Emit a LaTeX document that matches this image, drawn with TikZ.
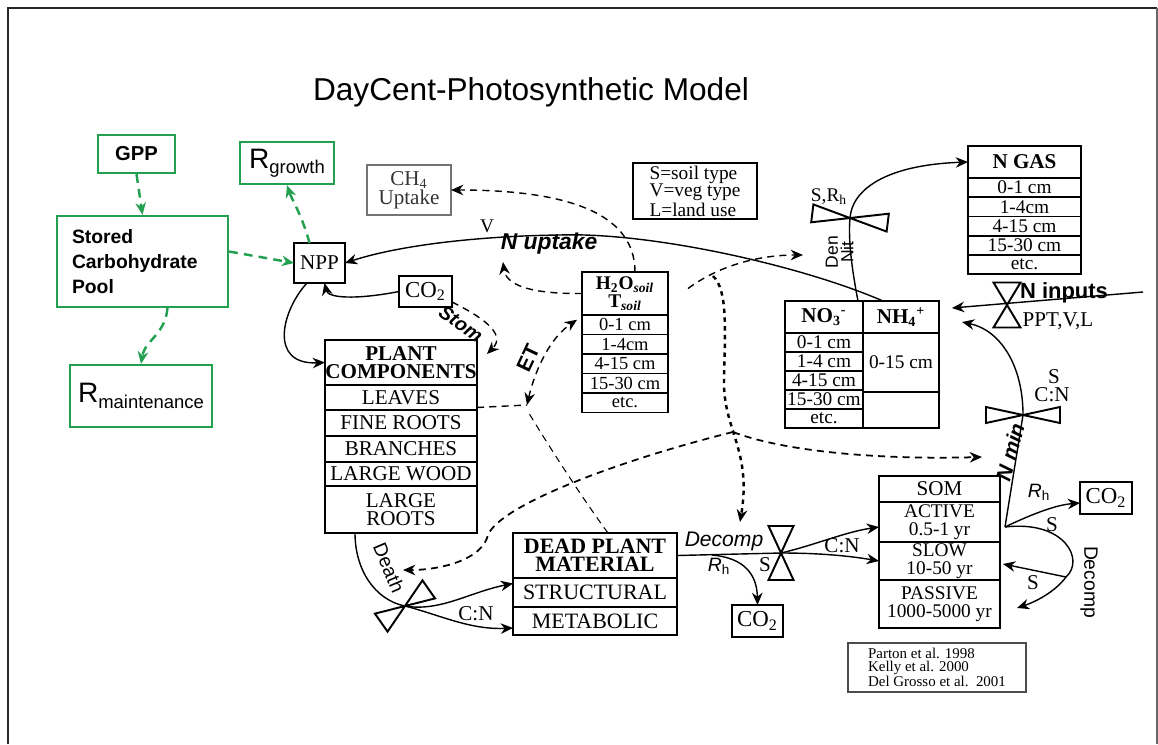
\documentclass[tikz,border=0pt]{standalone}
\usepackage{fontspec}
\setmainfont{Liberation Serif}
\setsansfont{Liberation Sans}
\usetikzlibrary{arrows.meta, positioning}
\definecolor{boxgreen}{RGB}{34,160,80}
\newcommand{\Fs}[1]{\fontsize{#1}{#1}\selectfont}
\newcommand{\BigR}[1]{{\fontsize{16}{18}\selectfont R}\raisebox{-3pt}{\fontsize{10.5}{12}\selectfont #1}}
\newcommand{\Rh}{\textit{R}\textsubscript{h}}
\tikzset{
    pics/valve/.style 2 args={code={
      \draw[line width=1.1pt] (0,0) -- (-#1,-#2) -- (-#1,#2) -- cycle
        (0,0) -- (#1,-#2) -- (#1,#2) -- cycle;
    }},
    poolrow/.style={draw, line width=1.1pt, inner sep=0pt, outer sep=0pt, minimum width=#1, align=center},
    gbox/.style={draw=boxgreen, line width=1.3pt, inner sep=0pt, align=center, font=\sffamily},
    gflow/.style={-{Stealth[length=7pt,width=6pt]}, boxgreen, line width=1.4pt, dash pattern=on 5pt off 3.5pt},
    flow/.style={-{Stealth[length=7pt,width=6pt]}, line width=0.8pt},
    dflow/.style={flow, dash pattern=on 4pt off 3pt},
    dotflow/.style={flow, line width=1.4pt, dash pattern=on 2.5pt off 2.5pt},
    lbl/.style={font=\sffamily\Fs{11}, inner sep=0pt},
    serlbl/.style={font=\Fs{12}, inner sep=0pt},
}

\begin{document}
\begin{tikzpicture}[x=0.02cm, y=-0.02cm]
    \tikzset{node distance=0pt}
    \useasboundingbox (0,0) rectangle (1158,744);
    \draw[line width=1.6pt, black!85] (8,744) -- (8,8) -- (1157,8);
    \draw[line width=0.8pt, black!60] (1157,8) -- (1157,744);

    \node[font=\sffamily\Fs{18}] (title) at (531,92) {DayCent-Photosynthetic Model};

    \node[gbox, minimum width=1.54cm, minimum height=0.76cm, font=\sffamily\bfseries\Fs{11.5}] (gpp) at (136.5,154) {GPP};
    \node[gbox, minimum width=1.88cm, minimum height=0.84cm] (rgrowth) at (287,163) {\BigR{growth}};
    \node[gbox, minimum width=3.42cm, minimum height=1.82cm, text width=2.82cm, align=left, font=\sffamily\bfseries\fontsize{11}{14}\selectfont] (stored) at (142.5,261.5) {Stored\\Carbohydrate\\Pool};
    \node[gbox, minimum width=2.84cm, minimum height=1.24cm] (rmaint) at (141,396) {\BigR{maintenance}};

    \node[poolrow=1.02cm, minimum height=0.8cm, font=\Fs{12}] (npp) at (319.5,263) {NPP};
    \node[poolrow=1.06cm, minimum height=0.62cm, font=\Fs{13}] (co2a) at (425.5,291.5) {CO\textsubscript{2}};
    \node[poolrow=1.68cm, minimum height=1cm, draw=black!55, text=black!80, font=\fontsize{12}{11}\selectfont] (ch4) at (409,190) {CH\textsubscript{4}\\Uptake};
    \node[poolrow=2.48cm, minimum height=1.12cm, align=left, font=\fontsize{11}{10}\selectfont] (legend) at (695,191) {S=soil type\\V=veg type\\L=land use};
    \node[poolrow=1.02cm, minimum height=0.64cm, font=\Fs{13}] (co2b) at (757.5,621) {CO\textsubscript{2}};
    \node[poolrow=1.04cm, minimum height=0.64cm, font=\Fs{13}] (co2c) at (1106,498) {CO\textsubscript{2}};
    \node[poolrow=3.56cm, minimum height=0.98cm, line width=0.8pt, draw=black!70, align=left, font=\fontsize{8.5}{7.5}\selectfont] (refs) at (937,667.5) {Parton et al. 1998\\Kelly et al. 2000\\Del Grosso et al.\ \ 2001};

    \node[poolrow=3.04cm, minimum height=0.9cm, anchor=north west, font=\bfseries\fontsize{12}{10}\selectfont] (pc) at (325,340) {PLANT\\COMPONENTS};
    \node[poolrow=3.04cm, minimum height=0.5cm, below=of pc, font=\Fs{12}] (leaves) {LEAVES};
    \node[poolrow=3.04cm, minimum height=0.52cm, below=of leaves, font=\Fs{12}] (fineroots) {FINE ROOTS};
    \node[poolrow=3.04cm, minimum height=0.52cm, below=of fineroots, font=\Fs{12}] (branches) {BRANCHES};
    \node[poolrow=3.04cm, minimum height=0.48cm, below=of branches, font=\Fs{12}] (largewood) {LARGE WOOD};
    \node[poolrow=3.04cm, minimum height=0.94cm, below=of largewood, font=\fontsize{12}{10}\selectfont] (largeroots) {LARGE\\ROOTS};

    \node[poolrow=1.72cm, minimum height=0.86cm, anchor=north west, font=\bfseries\fontsize{11}{10}\selectfont] (h2o) at (582,272) {H\textsubscript{2}O\textsubscript{\textit{soil}}\\T\textsubscript{\textit{soil}}};
    \node[poolrow=1.72cm, minimum height=0.39cm, below=of h2o, font=\Fs{10.5}] (h2o1) {0-1 cm};
    \node[poolrow=1.72cm, minimum height=0.39cm, below=of h2o1, font=\Fs{10.5}] (h2o2) {1-4cm};
    \node[poolrow=1.72cm, minimum height=0.39cm, below=of h2o2, font=\Fs{10.5}] (h2o3) {4-15 cm};
    \node[poolrow=1.72cm, minimum height=0.39cm, below=of h2o3, font=\Fs{10.5}] (h2o4) {15-30 cm};
    \node[poolrow=1.72cm, minimum height=0.39cm, below=of h2o4, font=\Fs{10.5}] (h2o5) {etc.};

    \node[poolrow=1.56cm, minimum height=0.64cm, anchor=north west, font=\bfseries\Fs{12}] (no3) at (785,301) {NO\textsubscript{3}\textsuperscript{-}};
    \node[poolrow=1.52cm, minimum height=0.64cm, right=of no3, font=\bfseries\Fs{12}] (nh4) {NH\textsubscript{4}\textsuperscript{+}};
    \node[poolrow=1.56cm, minimum height=0.38cm, below=of no3, font=\Fs{11}] (no3a) {0-1 cm};
    \node[poolrow=1.56cm, minimum height=0.38cm, below=of no3a, font=\Fs{11}] (no3b) {1-4 cm};
    \node[poolrow=1.56cm, minimum height=0.38cm, below=of no3b, font=\Fs{11}] (no3c) {4-15 cm};
    \node[poolrow=1.56cm, minimum height=0.38cm, below=of no3c, font=\Fs{11}] (no3d) {15-30 cm};
    \node[poolrow=1.56cm, minimum height=0.38cm, below=of no3d, font=\Fs{11}] (no3e) {etc.};
    \node[poolrow=1.52cm, minimum height=1.18cm, below=of nh4, font=\Fs{11}] (nh4a) {0-15 cm};
    \node[poolrow=1.52cm, minimum height=0.72cm, below=of nh4a] (nh4b) {};

    \node[poolrow=2.26cm, minimum height=0.64cm, anchor=north west, font=\bfseries\Fs{12}] (ngas) at (968,146) {N GAS};
    \node[poolrow=2.26cm, minimum height=0.385cm, below=of ngas, font=\Fs{11}] (ngas1) {0-1 cm};
    \node[poolrow=2.26cm, minimum height=0.385cm, below=of ngas1, font=\Fs{11}] (ngas2) {1-4cm};
    \node[poolrow=2.26cm, minimum height=0.385cm, below=of ngas2, font=\Fs{11}] (ngas3) {4-15 cm};
    \node[poolrow=2.26cm, minimum height=0.385cm, below=of ngas3, font=\Fs{11}] (ngas4) {15-30 cm};
    \node[poolrow=2.26cm, minimum height=0.385cm, below=of ngas4, font=\Fs{11}] (ngas5) {etc.};

    \node[poolrow=2.42cm, minimum height=0.52cm, anchor=north west, font=\Fs{12}] (som) at (879,476) {SOM};
    \node[poolrow=2.42cm, minimum height=0.8cm, below=of som, font=\fontsize{11}{10}\selectfont] (active) {ACTIVE\\0.5-1 yr};
    \node[poolrow=2.42cm, minimum height=0.76cm, below=of active, font=\fontsize{11}{10}\selectfont] (slow) {SLOW\\10-50 yr};
    \node[poolrow=2.42cm, minimum height=0.96cm, below=of slow, font=\fontsize{11}{10}\selectfont] (passive) {PASSIVE\\1000-5000 yr};

    \node[poolrow=3.28cm, minimum height=0.9cm, anchor=north west, font=\bfseries\fontsize{12.5}{10}\selectfont] (dpm) at (513,533) {DEAD PLANT\\MATERIAL};
    \node[poolrow=3.28cm, minimum height=0.58cm, below=of dpm, font=\Fs{12.5}] (structural) {STRUCTURAL};
    \node[poolrow=3.28cm, minimum height=0.56cm, below=of structural, font=\Fs{12.5}] (metabolic) {METABOLIC};

    \coordinate (decv) at (781,553);
    \coordinate (deathv) at (405,606);
    \coordinate (srv) at (850,218);
    \coordinate (ninv) at (1007,305);
    \coordinate (nminv) at (1023,415);
    \pic[rotate=90] at (decv) {valve={27}{12.5}};
    \pic[rotate=35] at (deathv) {valve={29}{11}};
    \pic[rotate=-7] at (srv) {valve={38}{9}};
    \pic[rotate=90] at (ninv) {valve={22.5}{13.5}};
    \pic at (nminv) {valve={37}{8}};

    \coordinate (et) at (527,405);
    \coordinate (nupt) at (503,262);
    \coordinate (denarr) at (803,255);
    \coordinate (decarr) at (740,522);
    \coordinate (branch) at (733,432);
    \coordinate (deathin) at (403,570);
    \coordinate (somin) at (982,457);
    \coordinate (rhsplit) at (712,555);
    \coordinate (somout) at ([xshift=0.1cm,yshift=-0.1cm]active.east);
    \coordinate (loopmid) at (1066,577);
    \coordinate (nh4in) at (962,322);
    \coordinate (ninstart) at (1143,292);

    \draw[gflow] (gpp.south) -- (stored.north);
    \draw[gflow] ([yshift=0.2cm]stored.east) -- (npp.west);
    \draw[gflow] ([xshift=-0.2cm]npp.north) .. controls (302,215) and (292,200) .. (rgrowth.south);
    \draw[gflow] ([xshift=0.5cm]stored.south) .. controls (165,335) and (145,340) .. (rmaint.north);

    \draw[flow] ([xshift=0.4cm]nh4.north west) .. controls (800,265) and (650,232) .. (560,235) .. controls (480,236) and (400,245) .. (npp.east);
    \draw[flow] (co2a.west) .. controls (355,300) and (328,298) .. ([xshift=0.1cm]npp.south);
    \draw[flow] ([xshift=-0.25cm]npp.south) .. controls (282,310) and (268,365) .. (pc.west);
    \draw[dflow] ([yshift=0.1cm]co2a.south east) .. controls (478,315) and (508,333) .. ([xshift=0.2cm,yshift=-0.28cm]pc.north east);
    \draw[dflow, -] ([yshift=-0.2cm]leaves.east) -- (et);
    \draw[dflow, {Stealth[length=7pt,width=6pt]}-{Stealth[length=7pt,width=6pt]}] (et) .. controls (535,370) and (550,338) .. ([xshift=-0.1cm,yshift=0.1cm]h2o1.west);
    \draw[dflow, -, line width=0.6pt] ([xshift=0.26cm]dpm.north) .. controls (580,495) and (545,440) .. ([yshift=-0.1cm]et);
    \draw[dflow] ([xshift=0.2cm]h2o.north) .. controls (635,210) and (560,190) .. (ch4.east);
    \draw[dflow] (h2o.west) .. controls (530,294) and (506,285) .. (nupt);
    \draw[dflow] ([xshift=0.4cm,yshift=0.1cm]h2o.east) .. controls (720,265) and (760,255) .. (denarr);
    \draw[dotflow] ([xshift=0.9cm,yshift=0.35cm]h2o.east) .. controls (728,290) and (725,330) .. (724,380) .. controls (723,430) and (752,450) .. (decarr);
    \draw[dflow, line width=1pt] (branch) .. controls (620,460) and (500,505) .. (488,535) .. controls (482,560) and (440,570) .. (deathin);
    \draw[dflow, line width=1pt] (branch) .. controls (780,450) and (870,460) .. (somin);

    \draw[flow, -] ([xshift=-0.92cm]largeroots.south) .. controls (355,570) and (375,600) .. (deathv);
    \draw[flow] (deathv) .. controls (440,612) and (470,592) .. ([yshift=0.18cm]structural.west);
    \draw[flow] (deathv) .. controls (440,615) and (470,630) .. ([yshift=-0.14cm]metabolic.west);

    \draw[flow, -] (dpm.east) -- (decv);
    \draw[flow] (rhsplit) .. controls (745,558) and (757,575) .. (co2b.north);
    \draw[flow] (decv) .. controls (815,545) and (845,532) .. ([yshift=-0.1cm]active.west);
    \draw[flow] (decv) .. controls (820,553) and (850,556) .. (slow.west);

    \draw[flow] (somout) -- (nminv) .. controls (1023,365) and (1000,330) .. (nh4in);
    \draw[flow] (somout) .. controls (1030,515) and (1055,505) .. ([yshift=-0.1cm]co2c.west);
    \draw[flow] (somout) .. controls (1065,520) and (1085,560) .. (loopmid) .. controls (1055,592) and (1035,602) .. ([xshift=0.34cm,yshift=-0.08cm]passive.east);
    \draw[flow] (loopmid) -- ([xshift=0.06cm,yshift=-0.06cm]slow.east);
    \draw[flow] (ninstart) -- ([xshift=0.26cm,yshift=0.18cm]nh4.east);
    \draw[flow] ([xshift=-0.1cm]no3.north east) .. controls (852,270) and (848,240) .. (srv) .. controls (852,190) and (885,165) .. (ngas.west);

    \node[serlbl, font=\Fs{11}] (vlab) at (487,226) {V};
    \node[lbl, font=\sffamily\bfseries\itshape\Fs{13}] (nuplab) at (549,244) {N uptake};
    \node[lbl, font=\sffamily\bfseries\itshape\Fs{11}, rotate=-35] (stomlab) at (461,324) {Stom};
    \node[lbl, font=\sffamily\bfseries\Fs{12}, rotate=65] (etlab) at (528,358) {ET};
    \node[lbl, rotate=-67] (deathlab) at (389,568) {Death};
    \node[serlbl] (cnlab1) at (476,614) {C:N};
    \node[lbl, font=\sffamily\itshape\Fs{12}] (declab) at (724,541) {Decomp};
    \node[lbl] (rhlab1) at (719,566) {\Rh};
    \node[serlbl] (slab1) at (765,565) {S};
    \node[serlbl] (cnlab2) at (842,546) {C:N};
    \node[lbl] (rhlab2) at (1039,492) {\Rh};
    \node[serlbl] (slab2) at (1052,525) {S};
    \node[serlbl] (slab3) at (1033,583) {S};
    \node[lbl, rotate=-90] (declab2) at (1089,582) {Decomp};
    \node[lbl, font=\sffamily\bfseries\itshape\Fs{12}, rotate=75] (nminlab) at (1010,452) {N min};
    \node[serlbl] (slab4) at (1054,377) {S};
    \node[serlbl] (cnlab3) at (1052,395) {C:N};
    \node[lbl, font=\sffamily\Fs{10}, rotate=90] (denlab) at (832,252) {Den};
    \node[lbl, font=\sffamily\Fs{10}, rotate=90] (nitlab) at (847,252) {Nit};
    \node[serlbl, font=\Fs{11}] (srlab) at (829,197) {S,R\textsubscript{h}};
    \node[lbl, font=\sffamily\bfseries\Fs{12.5}] (ninlab) at (1064,293) {N inputs};
    \node[serlbl] (pptlab) at (1058,321) {PPT,V,L};
\end{tikzpicture}
\end{document}
